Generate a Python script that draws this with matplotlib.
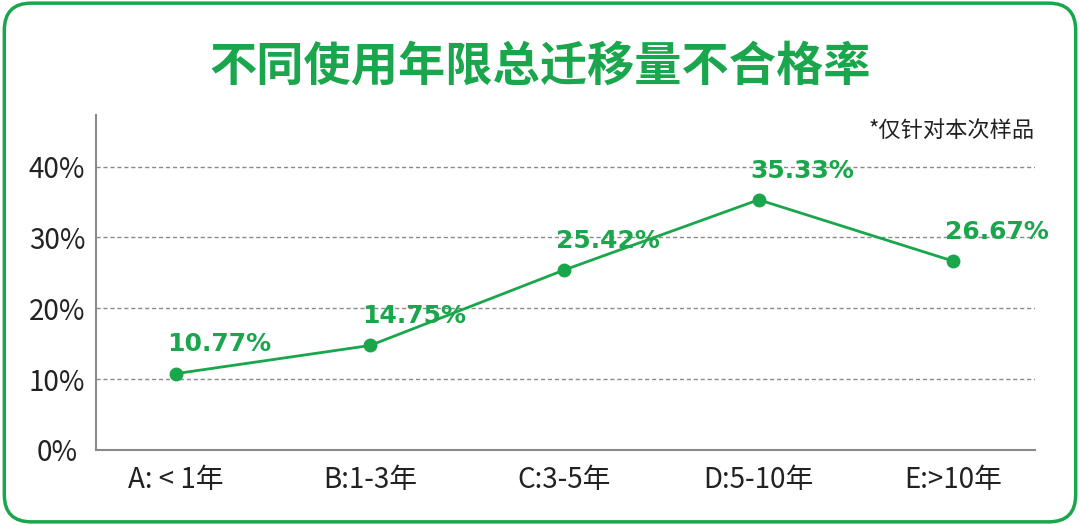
import matplotlib.pyplot as plt
from matplotlib.patches import FancyBboxPatch

plt.rcParams['font.family'] = ['Noto Sans CJK SC', 'DejaVu Sans']

categories = ['A: < 1年', 'B:1-3年', 'C:3-5年', 'D:5-10年', 'E:>10年']
rates = [10.77, 14.75, 25.42, 35.33, 26.67]
yticks = [0, 10, 20, 30, 40]

GREEN = '#1aa64c'
GRID = '#8a8a8a'
TXT = '#222222'

fig = plt.figure(figsize=(10.8, 5.25), dpi=100)
ax = fig.add_axes([0.089, 0.143, 0.869, 0.638])

# rounded frame
fig.patches.append(FancyBboxPatch(
    (0.004, 0.006), 0.992, 0.988,
    boxstyle='round,pad=0,rounding_size=0.025', transform=fig.transFigure,
    fc='none', ec=GREEN, lw=2.5, mutation_aspect=1080 / 525))

x = list(range(len(categories)))
ax.plot(x, rates, color=GREEN, lw=2, marker='o', ms=9, zorder=3)

for xi, v in zip(x, rates):
    ax.annotate(f'{v:.2f}%', (xi, v), xytext=(-6, 21), textcoords='offset points',
                ha='left', va='center', fontsize=18, fontweight='bold',
                family='DejaVu Sans', color=GREEN, zorder=4)

ax.set_xlim(-0.41, 4.42)
ax.set_ylim(0, 47.3)
ax.set_xticks(x)
ax.set_xticklabels(categories, fontsize=20, color=TXT)
ax.set_yticks(yticks)
ax.set_yticklabels([f'{t}%' for t in yticks], fontsize=20, color=TXT, ha='center')
ax.tick_params(axis='y', length=0, pad=28)
ax.tick_params(axis='x', length=0, pad=11)

for t in yticks[1:]:
    ax.axhline(t, color=GRID, lw=1, ls=(0, (3, 2)), zorder=1)

for s in ('top', 'right'):
    ax.spines[s].set_visible(False)
for s in ('left', 'bottom'):
    ax.spines[s].set_color(GRID)
    ax.spines[s].set_linewidth(1.5)

fig.text(0.5, 0.874, '不同使用年限总迁移量不合格率', ha='center', va='center',
         fontsize=34, fontweight='heavy', color=GREEN)
fig.text(0.958, 0.752, '*仅针对本次样品', ha='right', va='center',
         fontsize=16, color=TXT)

fig.savefig('out.png', dpi=100)
